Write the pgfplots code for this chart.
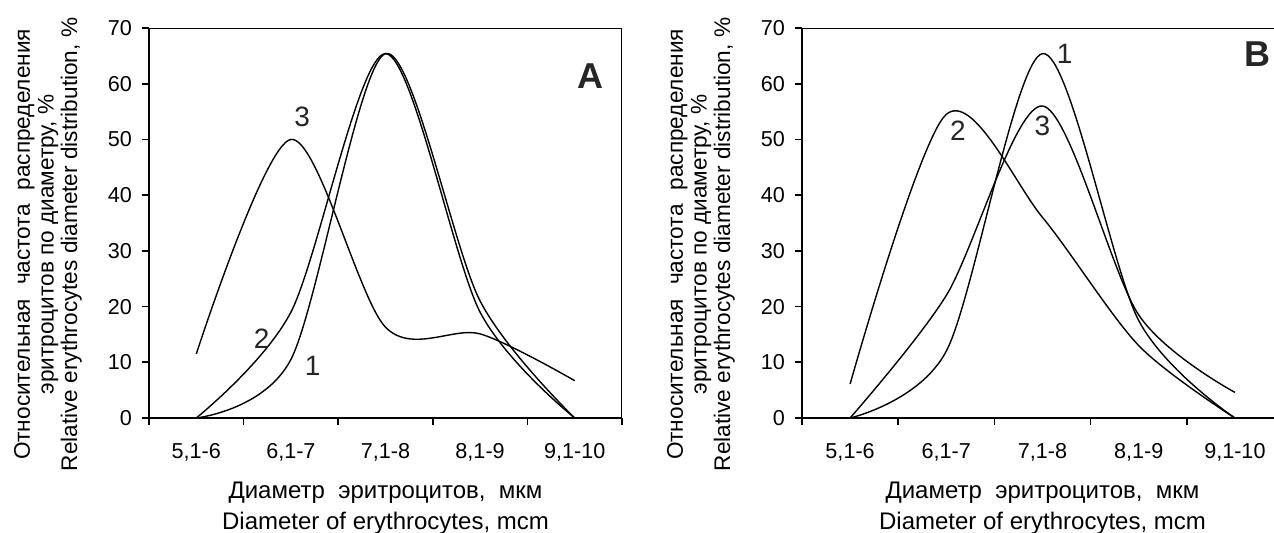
\documentclass[border=0pt]{standalone}
\usepackage{fontspec}
\setmainfont{Liberation Sans}
\usepackage{pgfplots}
\pgfplotsset{compat=1.18}

\pgfplotsset{panel/.style={
  scale only axis, width=236.5pt, height=195pt,
  xmin=0.5, xmax=5.5, ymin=0, ymax=70,
  axis lines*=left,
  axis line style={line width=1pt, black},
  tick align=outside, tick pos=left,
  xtick={1,...,5}, xticklabels={{5,1-6},{6,1-7},{7,1-8},{8,1-9},{9,1-10}},
  major x tick style={draw=none},
  minor xtick={0.5,1.5,...,5.5},
  ytick={0,10,...,70},
  major tick length=3.5pt, minor tick length=3.5pt,
  tick style={line width=0.8pt, black},
  tick label style={font=\fontsize{10.8}{12}\selectfont},
  /pgf/number format/assume math mode=true,
  xticklabel style={yshift=-5.5pt},
  yticklabel style={xshift=-1.5pt},
  ylabel={Относительная\hspace{7pt}частота\hspace{7pt}распределения\\эритроцитов по диаметру, \%\\Relative erythrocytes diameter distribution, \%},
  ylabel style={anchor=center, align=center, font=\fontsize{11.3}{11.8}\selectfont},
  xlabel={Диаметр\ \ эритроцитов,\ \ мкм\\Diameter of erythrocytes, mcm},
  xlabel style={at={(axis description cs:0.5,0)}, yshift=-45pt, anchor=center, align=center, font=\fontsize{12}{15.5}\selectfont},
  clip=false,
}}
\tikzset{crv/.style={black, smooth, line width=0.7pt, mark=none},
  num/.style={font=\fontsize{14}{16}\selectfont, text=black!85},
  pan/.style={font=\fontsize{18}{20}\selectfont\bfseries, text=black!85}}

\begin{document}
\begin{tikzpicture}
% Panel A
\begin{axis}[panel, at={(74.5pt,-209pt)}, anchor=south west,
  ylabel style={at={(axis description cs:-0.2135,0.445)}}]
\addplot[crv] coordinates {(1,0) (2,10.5) (3,65.4) (4,21) (5,0)};
\addplot[crv] coordinates {(1,0) (2,19) (3,65.4) (4,19) (5,0)};
\addplot[crv] coordinates {(1,11.5) (2,50) (3,16.3) (4,15.1) (5,6.7)};
\draw[line width=0.5pt] (rel axis cs:0,1) -- (rel axis cs:1,1) -- (rel axis cs:1,0);
\node[num] at (axis cs:2.12,54) {3};
\node[num] at (axis cs:1.69,14.2) {2};
\node[num] at (axis cs:2.23,9.4) {1};
\node[pan] at (axis cs:5.17,61.3) {A};
\end{axis}
% Panel B
\begin{axis}[panel, width=240.5pt, at={(401pt,-209pt)}, anchor=south west,
  ylabel style={at={(axis description cs:-0.21,0.445)}}]
\addplot[crv] coordinates {(1,0) (2,12) (3,65.4) (4,17.5) (5,0)};
\addplot[crv] coordinates {(1,6.1) (2,54.5) (3,36) (4,13) (5,0)};
\addplot[crv] coordinates {(1,0) (2,22) (3,56) (4,18.5) (5,4.6)};
\draw[line width=0.5pt] (rel axis cs:0,1) -- (rel axis cs:1,1) -- (rel axis cs:1,0);
\node[num] at (axis cs:3.23,65.3) {1};
\node[num] at (axis cs:2.12,51.5) {2};
\node[num] at (axis cs:3.0,52.4) {3};
\node[pan] at (axis cs:5.23,65.3) {B};
\end{axis}
\pgfresetboundingbox
\useasboundingbox (0pt,0pt) rectangle (637pt,-266.5pt);
\end{tikzpicture}
\end{document}
